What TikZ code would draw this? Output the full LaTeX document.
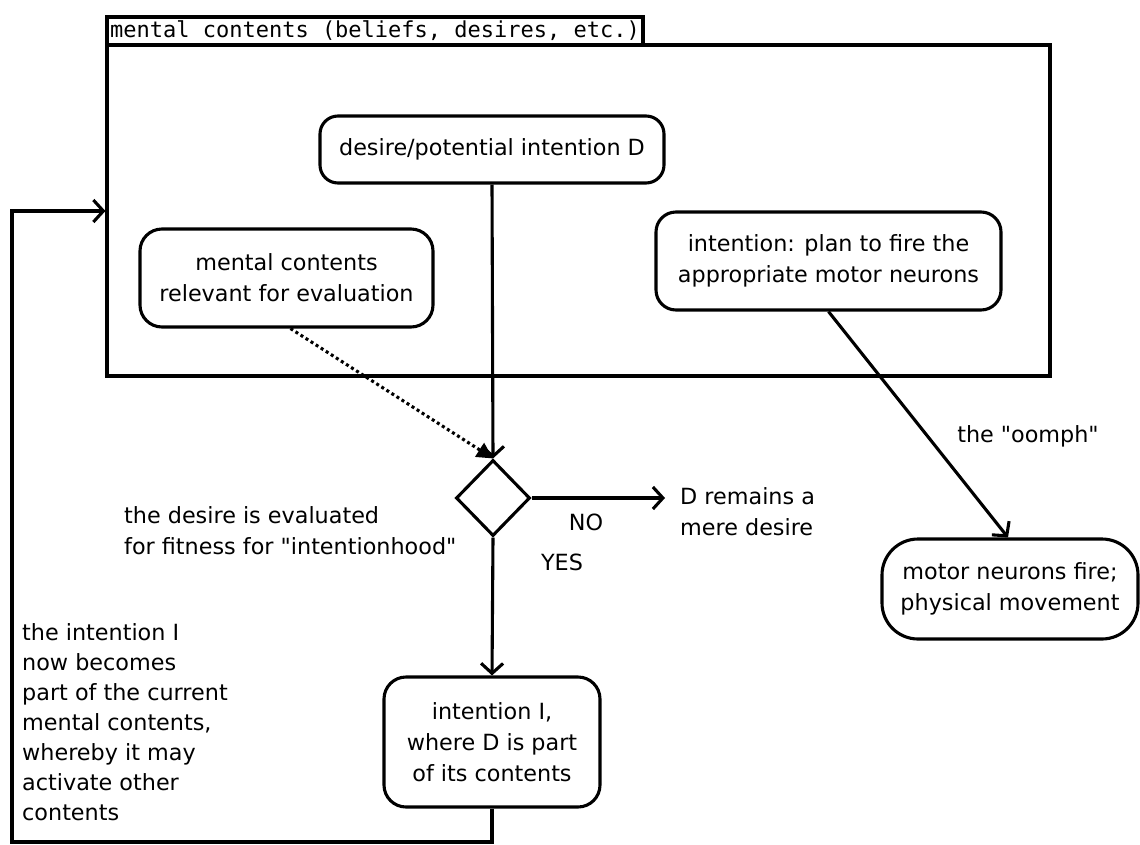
\documentclass[tikz,border=0pt]{standalone}
\usepackage{fontspec}
\setmainfont{DejaVu Sans}[Ligatures=TeXOff]
\newfontfamily\monofnt{DejaVu Sans Mono}
\usetikzlibrary{arrows.meta,shapes.geometric}
\newcommand{\qq}{\symbol{34}}
\begin{document}
\begin{tikzpicture}[x=1pt,y=-1pt,
  every node/.style={font=\fontsize{22.3}{31}\selectfont},
  lw/.style={line width=3.1pt},
  box/.style={draw,lw,rounded corners=20pt,align=center,inner sep=0pt},
  plainbox/.style={draw,lw,inner sep=0pt},
  arr/.style={lw,-{Straight Barb[length=10pt,width=22pt]}},
  dotarr/.style={lw,dash pattern=on 3pt off 3pt,-{Triangle[length=16pt,width=16pt]}},
  lbl/.style={inner sep=0pt,align=left}]
\useasboundingbox (0,0) rectangle (1140,844);
% tab and frame
\node[plainbox,minimum width=536pt,minimum height=28pt,font=\monofnt\fontsize{22}{24}\selectfont] (tab) at (375,31) {mental contents (beliefs, desires, etc.)};
\node[plainbox,minimum width=943pt,minimum height=331pt] (frame) at (578.5,210.5) {};
% nodes
\node[box,minimum width=344pt,minimum height=67pt,rounded corners=18pt] (desire) at (492,149.5) {desire/potential intention D};
\node[box,minimum width=293pt,minimum height=98pt,rounded corners=22pt] (relevant) at (286.5,278) {mental contents\\relevant for evaluation};
\node[box,minimum width=345pt,minimum height=98pt] (plan) at (828.5,261) {intention: plan to fire the\\appropriate motor neurons};
\node[draw,lw,diamond,minimum width=74pt,minimum height=76pt,inner sep=0pt] (dia) at (493,498) {};
\node[box,minimum width=216pt,minimum height=130pt,rounded corners=22pt] (intI) at (492,742) {intention I,\\where D is part\\of its contents};
\node[box,minimum width=256pt,minimum height=100pt,rounded corners=36pt] (motor) at (1010,589) {motor neurons fire;\\physical movement};
% labels
\node[lbl,anchor=west] (remains) at (680,512) {D remains a\\mere desire};
\node[lbl] (no) at (586,522) {NO};
\node[lbl] (yes) at (562,562) {YES};
\node[lbl] (oomph) at (1028,436) {the \qq oomph\qq};
\node[lbl,anchor=west] (evaltxt) at (124,531) {the desire is evaluated\\for fitness for \qq intentionhood\qq};
\node[lbl,anchor=west,font=\fontsize{22.3}{30}\selectfont] (loopt) at (22,722) {the intention I\\now becomes\\part of the current\\mental contents,\\whereby it may\\activate other\\contents};
% connectors
\coordinate (noend) at (665,498);
\coordinate (lb) at (12,842);
\coordinate (lt) at (12,211);
\draw[arr] (desire.south) -- (dia.north);
\draw[dotarr] ([xshift=4pt]relevant.south) -- (dia.north);
\draw[arr] (dia.east) -- (noend);
\draw[arr] (dia.south) -- (intI.north);
\draw[arr] (plan.south) -- ([xshift=-2pt]motor.north);
\draw[arr] (intI.south) |- (lb) -- (lt) -- (lt -| frame.west);
\end{tikzpicture}
\end{document}
